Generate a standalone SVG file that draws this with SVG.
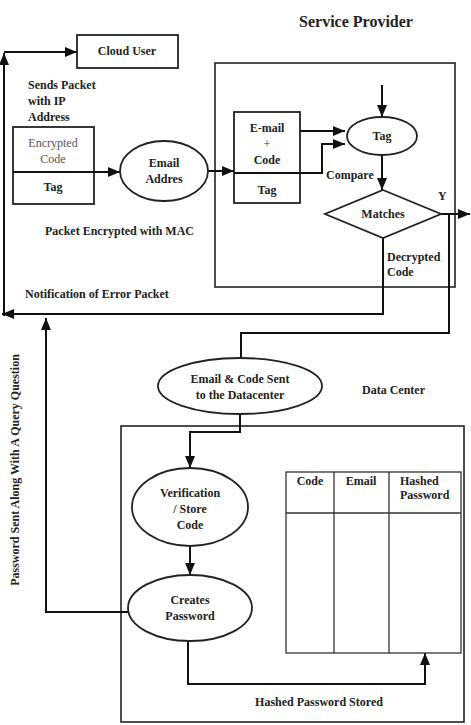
<svg xmlns="http://www.w3.org/2000/svg" width="471" height="725" viewBox="0 0 471 725">
<style>
.t{font-family:"Liberation Serif","Times New Roman",serif;font-weight:bold;font-size:12px;fill:#222}
.c{text-anchor:middle}
.n{font-weight:normal;fill:#555}
.box{fill:none;stroke:#222;stroke-width:1.6}
.shp{fill:#fff;stroke:#222;stroke-width:1.8}
.ln{fill:none;stroke:#111;stroke-width:2}
.thin{fill:none;stroke:#333;stroke-width:1.3}
</style>
<defs>
<marker id="ah" markerUnits="userSpaceOnUse" markerWidth="12" markerHeight="12" viewBox="0 0 12 12" refX="12" refY="6" orient="auto">
<path d="M0,1 L12,6 L0,11 Z" fill="#111"/>
</marker>
</defs>
<rect width="471" height="725" fill="#fff"/>

<text class="t" x="356" y="27" text-anchor="middle" style="font-size:16px">Service Provider</text>

<g id="service-provider">
<rect class="box" x="215" y="63" width="240" height="224"/>
</g>
<g id="data-center">
<rect class="box" x="121" y="426" width="343" height="296"/>
<text class="t" x="362" y="394">Data Center</text>
</g>

<g id="connectors">
<path class="ln" d="M4,316 V53" marker-end="url(#ah)"/>
<path class="ln" d="M4,52 H77" marker-end="url(#ah)"/>
<path class="ln" d="M383,238 V314 H2" marker-end="url(#ah)"/>
<path class="ln" d="M94,172 H120" marker-end="url(#ah)"/>
<path class="ln" d="M207,171 H234" marker-end="url(#ah)"/>
<path class="ln" d="M300,131 H345" marker-end="url(#ah)"/>
<path class="ln" d="M300,173 H322 V144 H345" marker-end="url(#ah)"/>
<path class="ln" d="M382,85 V117" marker-end="url(#ah)"/>
<path class="ln" d="M382,155 V190" marker-end="url(#ah)"/>
<path class="ln" d="M441,214 H470" marker-end="url(#ah)"/>
<path class="ln" d="M449,214 V333 H241 V358"/>
<path class="ln" d="M240,414 V432 H190 V468" marker-end="url(#ah)"/>
<path class="ln" d="M190,546 V575" marker-end="url(#ah)"/>
<path class="ln" d="M188,642 V684 H425 V653" marker-end="url(#ah)"/>
<path class="ln" d="M128,612 H46 V318" marker-end="url(#ah)"/>
</g>

<g id="labels">
<text class="t" x="28" y="89">Sends Packet</text>
<text class="t" x="28" y="105">with IP</text>
<text class="t" x="28" y="121">Address</text>
<text class="t" x="45" y="235">Packet Encrypted with MAC</text>
<text class="t" x="25" y="298">Notification of Error Packet</text>
<text class="t" x="326" y="179">Compare</text>
<text class="t" x="438" y="200">Y</text>
<text class="t" x="387" y="261">Decrypted</text>
<text class="t" x="387" y="276">Code</text>
<text class="t c" transform="translate(19,470) rotate(-90)">Password Sent Along With A Query Question</text>
<text class="t c" x="319" y="706">Hashed Password Stored</text>
</g>

<g id="cloud-user">
<rect class="shp" x="77" y="35" width="101" height="33"/>
<text class="t c" x="127" y="55">Cloud User</text>
</g>

<g id="encrypted-packet">
<rect class="shp" x="13" y="127" width="81" height="77"/>
<line class="ln" x1="13" y1="172" x2="94" y2="172"/>
<text class="t c n" x="53" y="147">Encrypted</text>
<text class="t c n" x="53" y="163">Code</text>
<text class="t c" x="53" y="191">Tag</text>
</g>

<g id="email-addres">
<ellipse class="shp" cx="164" cy="171" rx="44" ry="30"/>
<text class="t c" x="164" y="167">Email</text>
<text class="t c" x="164" y="183">Addres</text>
</g>

<g id="email-code-box">
<rect class="shp" x="234" y="112" width="66" height="91"/>
<line class="ln" x1="234" y1="173" x2="300" y2="173"/>
<text class="t c" x="267" y="132">E-mail</text>
<text class="t c n" x="267" y="148" style="fill:#333">+</text>
<text class="t c" x="267" y="164">Code</text>
<text class="t c" x="267" y="194">Tag</text>
</g>

<g id="tag">
<ellipse class="shp" cx="382" cy="136" rx="35" ry="19"/>
<text class="t c" x="382" y="140">Tag</text>
</g>

<g id="matches">
<polygon class="shp" points="383,190 441,214 383,238 325,214"/>
<text class="t c" x="383" y="218">Matches</text>
</g>

<g id="email-code-sent">
<ellipse class="shp" cx="240" cy="386" rx="82" ry="28"/>
<text class="t c" x="240" y="383">Email &amp; Code Sent</text>
<text class="t c" x="240" y="399">to the Datacenter</text>
</g>

<g id="verification">
<ellipse class="shp" cx="190" cy="507" rx="58" ry="39"/>
<text class="t c" x="190" y="497">Verification</text>
<text class="t c" x="190" y="513">/ Store</text>
<text class="t c" x="190" y="529">Code</text>
</g>

<g id="creates-password">
<ellipse class="shp" cx="190" cy="608" rx="62" ry="33"/>
<text class="t c" x="190" y="604">Creates</text>
<text class="t c" x="190" y="620">Password</text>
</g>

<g id="table">
<rect class="thin" x="286" y="472" width="175" height="181"/>
<line class="thin" x1="286" y1="513" x2="461" y2="513"/>
<line class="thin" x1="334" y1="472" x2="334" y2="653"/>
<line class="thin" x1="389" y1="472" x2="389" y2="653"/>
<text class="t c" x="310" y="485">Code</text>
<text class="t c" x="361" y="485">Email</text>
<text class="t" x="400" y="485">Hashed</text>
<text class="t" x="400" y="499">Password</text>
</g>
</svg>
